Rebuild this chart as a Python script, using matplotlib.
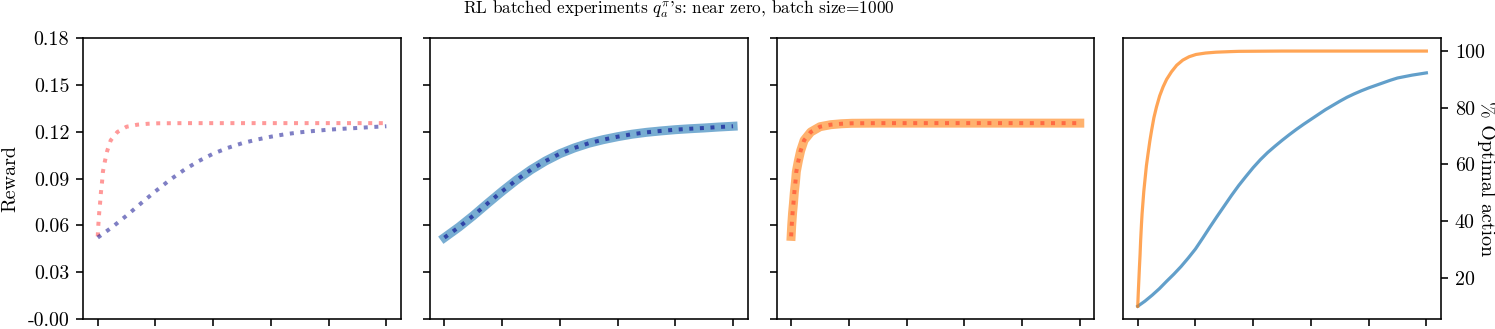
import matplotlib
matplotlib.use("Agg")
import matplotlib.pyplot as plt

plt.rcParams['font.family'] = 'serif'
plt.rcParams['font.serif'] = ['cmr10']
plt.rcParams['mathtext.fontset'] = 'cm'
plt.rcParams['axes.unicode_minus'] = False

# fast agent (red / orange), dense steps near the start
steps_fast = [0, 2, 5, 8, 11, 15, 18, 25, 33, 45, 68, 100, 137, 174, 210, 300, 400,
              500, 600, 700, 800, 900, 1000]
reward_fast = [0.053, 0.060, 0.068, 0.074, 0.081, 0.088, 0.0945, 0.1013, 0.1079, 0.1146,
               0.1199, 0.1233, 0.1246, 0.1252, 0.1255, 0.1256, 0.1256,
               0.1256, 0.1256, 0.1256, 0.1256, 0.1256, 0.1256]

# slow agent (blue / purple)
steps_slow = [0, 50, 100, 150, 200, 250, 300, 350, 400, 450, 500, 550, 600, 650, 700,
              750, 800, 850, 900, 950, 1000]
reward_slow = [0.0522, 0.0589, 0.0663, 0.0742, 0.0819, 0.0892, 0.0957, 0.1013, 0.1060,
               0.1097, 0.1127, 0.1150, 0.1169, 0.1185, 0.1197, 0.1206, 0.1214, 0.1220,
               0.1225, 0.1231, 0.1236]

steps_opt_slow = [0, 25, 50, 75, 100, 125, 150, 175, 200, 225, 250, 275, 300, 325, 350,
                  375, 400, 425, 450, 475, 500, 525, 550, 575, 600, 625, 650, 675, 700,
                  725, 750, 775, 800, 825, 850, 875, 900, 925, 950, 975, 1000]
optimal_slow = [10.0, 11.8, 13.9, 16.2, 18.8, 21.3, 24.0, 27.0, 30.2, 34.0, 37.9, 41.7,
                45.4, 49.1, 52.6, 55.8, 58.9, 61.7, 64.2, 66.4, 68.5, 70.5, 72.4, 74.2,
                75.9, 77.6, 79.3, 80.8, 82.3, 83.7, 84.9, 86.0, 87.0, 87.9, 88.8, 89.7,
                90.5, 91.0, 91.5, 91.9, 92.3]

steps_opt_fast = [0, 2, 4, 6, 8, 10, 13, 15, 18, 21, 25, 30, 36, 42, 48, 56, 65, 76, 88,
                  100, 117, 135, 156, 178, 202, 235, 271, 320, 350, 500, 700, 1000]
optimal_fast = [10.0, 15.0, 19.5, 24.0, 28.0, 33.0, 39.0, 42.5, 46.5, 50.5, 54.5, 59.5,
                64.0, 68.3, 72.0, 76.5, 80.3, 84.2, 87.4, 90.0, 92.7, 95.0, 96.8, 98.0,
                98.8, 99.3, 99.6, 99.8, 99.9, 100.0, 100.0, 100.0]

reward_ticks = [0.0, 0.03, 0.06, 0.09, 0.12, 0.15, 0.18]
reward_ticklabels = ["-0.00", "0.03", "0.06", "0.09", "0.12", "0.15", "0.18"]
step_ticks = [0, 200, 400, 600, 800, 1000]

W, H = 1495, 329
fig = plt.figure(figsize=(W / 144, H / 144), dpi=144)

lefts = [83.3, 430.0, 776.7, 1123.3]
bottom = (H - 319.0) / H
height = (319.0 - 38.3) / H
width = 317.5 / W
axes = []
for i, l in enumerate(lefts):
    if i in (1, 2):
        ax = fig.add_axes([l / W, bottom, width, height], sharey=axes[0])
    else:
        ax = fig.add_axes([l / W, bottom, width, height])
    axes.append(ax)
ax1, ax2, ax3, ax4 = axes

# panel 1: both smoothed rewards
ax1.plot(steps_fast, reward_fast, ':', color='red', alpha=0.4, lw=2)
ax1.plot(steps_slow, reward_slow, ':', color='darkblue', alpha=0.5, lw=2)
ax1.set_ylim(0, 0.18)
ax1.set_yticks(reward_ticks)
ax1.set_yticklabels(reward_ticklabels)
ax1.set_ylabel("Reward")

# panel 2: slow agent
ax2.plot(steps_slow, reward_slow, '-', color='tab:blue', alpha=0.6, lw=4.5)
ax2.plot(steps_slow, reward_slow, ':', color='darkblue', alpha=0.6, lw=2)
ax2.tick_params(labelleft=False)

# panel 3: fast agent
ax3.plot(steps_fast, reward_fast, '-', color='tab:orange', alpha=0.6, lw=4.5)
ax3.plot(steps_fast, reward_fast, ':', color='red', alpha=0.4, lw=2)
ax3.tick_params(labelleft=False)

# panel 4: % optimal action
ax4.plot(steps_opt_slow, optimal_slow, '-', color='tab:blue', alpha=0.7, lw=1.6)
ax4.plot(steps_opt_fast, optimal_fast, '-', color='tab:orange', alpha=0.7, lw=1.6)
ax4.yaxis.tick_right()
ax4.set_yticks([20, 40, 60, 80, 100])
ax4.set_ylabel("% Optimal action", rotation=270, va='center', ha='center')
ax4.yaxis.set_label_coords((1487 - 1123.3) / 317.5, 0.5)

# x tick labels fall below the cropped figure edge, so only the ticks show
for ax in axes:
    ax.set_xticks(step_ticks)
    ax.tick_params(labelbottom=False)

fig.text(679 / W, 1 - 13.5 / H,
         r"RL batched experiments $q_a^\pi$'s: near zero, batch size=1000",
         ha='center', va='baseline', fontsize=8.6)

fig.savefig("out.png", dpi=144)
